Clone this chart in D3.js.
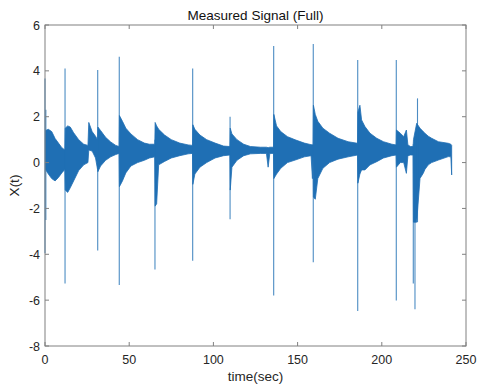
<!DOCTYPE html>
<html>
<head>
<meta charset="utf-8">
<script src="https://cdn.jsdelivr.net/npm/d3@7"></script>
<style>
  body { margin: 0; background: #fff; }
  text { font-family: "Liberation Sans", Arial, sans-serif; }
</style>
</head>
<body>
<div id="chart"></div>
<script>
// envelope of the dense signal: time, upper edge, lower edge
const envT  = [0.3, 2, 4, 6, 8, 10, 11.8,
  12.0, 13.5, 15, 17, 20, 23, 25.5, 26.0, 28, 30, 31.2,
  31.4, 33, 36, 39, 42, 44,
  44.2, 46, 48, 51, 55, 59, 62, 65.2,
  65.4, 66.3, 67.5, 71, 75, 80, 85, 87.6,
  87.8, 89, 92, 96, 101, 106, 109.8,
  110, 111, 114, 118, 122, 128, 131.5, 132.5, 133.5, 135.7,
  135.9, 137.5, 140, 144, 149, 154, 158, 158.8, 159.2,
  159.4, 160.5, 162, 165, 169, 174, 180, 185.6,
  185.8, 187, 188, 190, 193, 197, 201, 206, 208.5,
  208.7, 211, 213, 214.6, 215.5, 217, 218.6,
  218.8, 220.7, 222.7, 224.6, 225.6, 227.6, 229.6, 233.6, 239.5, 241.0, 241.5]
const envHi = [1.4, 1.45, 1.35, 1.05, 0.85, 0.65, 0.55,
  1.5, 1.6, 1.55, 1.3, 1.0, 0.8, 0.75, 1.75, 1.35, 1.15, 1.0,
  1.55, 1.4, 1.1, 0.9, 0.75, 0.7,
  2.05, 1.8, 1.5, 1.25, 1.0, 0.85, 0.8, 0.8,
  1.75, 1.6, 1.45, 1.2, 1.0, 0.85, 0.77, 0.75,
  1.65, 1.45, 1.2, 1.0, 0.85, 0.72, 0.7,
  1.5, 1.25, 1.0, 0.8, 0.7, 0.67, 0.67, 0.65, 0.67, 0.67,
  2.1, 1.6, 1.35, 1.13, 0.98, 0.85, 0.78, 0.78, 0.78,
  2.5, 2.1, 1.8, 1.5, 1.28, 1.06, 0.91, 0.84,
  2.2, 2.5, 1.86, 1.57, 1.28, 1.06, 0.91, 0.8, 0.77,
  1.42, 1.28, 1.13, 1.42, 0.77, 0.7, 0.7,
  1.0, 1.71, 1.5, 1.35, 1.28, 1.15, 1.06, 0.91, 0.84, 0.8, 0.75]
const envLo = [-0.3, -0.5, -0.7, -0.8, -0.65, -0.45, -0.3,
  -1.2, -1.3, -1.1, -0.8, -0.35, -0.1, 0.0, 0.55, 0.5, 0.2, -0.3,
  -0.4, -0.15, 0.1, 0.25, 0.35, 0.4,
  -1.05, -0.8, -0.45, -0.15, 0.0, 0.1, 0.2, 0.25,
  -1.9, -1.8, -0.1, 0.05, 0.2, 0.3, 0.38, 0.4,
  -0.95, -0.5, -0.2, 0.0, 0.2, 0.3, 0.33,
  -1.2, -0.2, 0.1, 0.3, 0.38, 0.4, 0.4, -0.2, 0.4, 0.4,
  -0.7, -0.5, -0.25, 0.0, 0.12, 0.25, 0.3, -0.7, 0.3,
  -1.5, -1.6, -0.7, -0.25, 0.0, 0.15, 0.25, 0.33,
  -0.9, -0.5, -0.32, -0.32, -0.1, 0.04, 0.2, 0.3, 0.33,
  -0.2, 0.0, 0.0, -0.47, 0.3, 0.33, 0.33,
  -2.6, -2.6, -0.69, -0.47, -0.3, -0.1, 0.0, 0.11, 0.26, 0.25, -0.54]

// impulse spikes: time, peak, trough
const spikeT  = [0, 0.5, 11.9, 31.3, 44.1, 65.3, 87.7, 109.9, 135.8, 159.3, 185.7, 208.6, 218.7, 219.7, 221.2]
const spikeHi = [3.67, 2.3, 4.1, 4.04, 4.62, 1.0, 4.1, 2.0, 5.08, 5.17, 4.47, 4.47, 0.8, 1.0, 2.8]
const spikeLo = [-3.96, -2.5, -5.27, -3.84, -5.34, -4.66, -4.28, -2.47, -5.8, -4.35, -6.47, -6.02, -5.27, -6.4, -2.6]

const xTicks = [0, 50, 100, 150, 200, 250]
const yTicks = [-8, -6, -4, -2, 0, 2, 4, 6]

const width = 478
const height = 387
const margin = {top: 25, right: 12, bottom: 41, left: 45}

const x = d3.scaleLinear()
  .domain([0, 250])
  .range([margin.left, width - margin.right])

const y = d3.scaleLinear()
  .domain([-8, 6])
  .range([height - margin.bottom, margin.top])

const blue = "#1f6fb4"
const axisGrey = "#808080"
const textGrey = "#262626"

const svg = d3.select("#chart")
  .append("svg")
  .attr("width", width)
  .attr("height", height)

// signal body
const env = envT.map((t, i) => ({t: t, hi: envHi[i], lo: envLo[i]}))

const area = d3.area()
  .x(d => x(d.t))
  .y0(d => y(d.lo))
  .y1(d => y(d.hi))

svg.append("path")
  .datum(env)
  .attr("d", area)
  .attr("fill", blue)
  .attr("stroke", blue)
  .attr("stroke-width", 0.8)

// spikes
const spikes = spikeT.map((t, i) => ({t: t, hi: spikeHi[i], lo: spikeLo[i]}))

svg.append("g")
  .selectAll("line")
  .data(spikes)
  .join("line")
    .attr("x1", d => x(d.t))
    .attr("x2", d => x(d.t))
    .attr("y1", d => y(d.hi))
    .attr("y2", d => y(d.lo))
    .attr("stroke", blue)
    .attr("stroke-opacity", 0.8)
    .attr("stroke-width", 1.1)

// axes, MATLAB style box with inward ticks
const tickLen = 4
const axes = svg.append("g")
  .attr("fill", "none")
  .attr("stroke", axisGrey)
  .attr("stroke-width", 1)

axes.append("rect")
  .attr("x", x(0))
  .attr("y", y(6))
  .attr("width", x(250) - x(0))
  .attr("height", y(-8) - y(6))

xTicks.forEach(v => {
  axes.append("line")
    .attr("x1", x(v)).attr("x2", x(v))
    .attr("y1", y(-8)).attr("y2", y(-8) - tickLen)
  axes.append("line")
    .attr("x1", x(v)).attr("x2", x(v))
    .attr("y1", y(6)).attr("y2", y(6) + tickLen)
})

yTicks.forEach(v => {
  axes.append("line")
    .attr("x1", x(0)).attr("x2", x(0) + tickLen)
    .attr("y1", y(v)).attr("y2", y(v))
  axes.append("line")
    .attr("x1", x(250)).attr("x2", x(250) - tickLen)
    .attr("y1", y(v)).attr("y2", y(v))
})

// tick labels
svg.append("g")
  .selectAll("text")
  .data(xTicks)
  .join("text")
    .attr("x", d => x(d))
    .attr("y", y(-8) + 18)
    .attr("text-anchor", "middle")
    .attr("font-size", 12.5)
    .attr("fill", textGrey)
    .text(d => d)

svg.append("g")
  .selectAll("text")
  .data(yTicks)
  .join("text")
    .attr("x", x(0) - 5)
    .attr("y", d => y(d) + 4.5)
    .attr("text-anchor", "end")
    .attr("font-size", 12.5)
    .attr("fill", textGrey)
    .text(d => d)

// titles
svg.append("text")
  .attr("x", (x(0) + x(250)) / 2)
  .attr("y", 20)
  .attr("text-anchor", "middle")
  .attr("font-size", 13.5)
  .attr("fill", "#111")
  .text("Measured Signal (Full)")

svg.append("text")
  .attr("x", (x(0) + x(250)) / 2)
  .attr("y", 381)
  .attr("text-anchor", "middle")
  .attr("font-size", 13.5)
  .attr("fill", textGrey)
  .text("time(sec)")

svg.append("text")
  .attr("transform", `translate(19,${(y(6) + y(-8)) / 2}) rotate(-90)`)
  .attr("text-anchor", "middle")
  .attr("font-size", 13.5)
  .attr("fill", textGrey)
  .text("X(t)")
</script>
</body>
</html>
